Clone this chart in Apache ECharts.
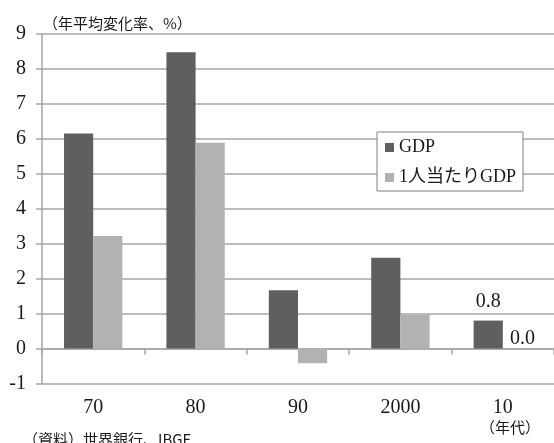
<!DOCTYPE html>
<html>
<head>
<meta charset="utf-8">
<script src="https://cdn.jsdelivr.net/npm/echarts@6/dist/echarts.min.js"></script>
<style>
  html, body { margin: 0; padding: 0; background: #ffffff; }
  #chart { width: 554px; height: 443px; }
</style>
</head>
<body>
<div id="chart"></div>
<script>
// Decades and average annual growth rates (%)
const decades = ['70', '80', '90', '2000', '10'];
const gdpGrowth = [6.15, 8.48, 1.67, 2.6, 0.8];
const perCapitaGrowth = [3.22, 5.89, -0.42, 0.97, 0.0];
const seriesNames = ['GDP', '1人当たりGDP'];
const yTicks = { min: -1, max: 9, interval: 1 };
// Only the latest decade carries a value label
const labelledIndex = 4;

const serif = "'Liberation Serif', 'Noto Sans CJK JP', serif";
const cjk = "'Noto Sans CJK JP', 'Liberation Serif', sans-serif";
const gridColor = '#a6a6a6';

function withLabel(values, labelOpts) {
  return values.map((v, i) => i === labelledIndex
    ? { value: v, label: Object.assign({ show: true, formatter: p => p.value.toFixed(1) }, labelOpts) }
    : v);
}

const chart = echarts.init(document.getElementById('chart'), null, { renderer: 'canvas' });

chart.setOption({
  animation: false,
  backgroundColor: '#ffffff',
  textStyle: { fontFamily: serif, color: '#1a1a1a' },
  title: [
    { text: '（年平均変化率、%）', left: 38, top: 11,
      textStyle: { fontFamily: cjk, fontSize: 15, fontWeight: 'normal', color: '#1a1a1a' } },
    { text: '（年代）', left: 475, top: 415,
      textStyle: { fontFamily: cjk, fontSize: 15, fontWeight: 'normal', color: '#1a1a1a' } },
    { text: '（資料）世界銀行、IBGE', left: 18, top: 427,
      textStyle: { fontFamily: cjk, fontSize: 15, fontWeight: 'normal', color: '#1a1a1a' } }
  ],
  legend: {
    data: seriesNames,
    orient: 'vertical',
    left: 377,
    top: 132,
    backgroundColor: '#ffffff',
    borderColor: '#808080',
    borderWidth: 1,
    padding: [5, 7, 3, 8],
    itemWidth: 9,
    itemHeight: 9,
    itemGap: 9,
    icon: 'rect',
    textStyle: { fontFamily: serif, fontSize: 18, color: '#1a1a1a', lineHeight: 21 }
  },
  grid: { left: 42, right: -3, top: 34, bottom: 59.5, containLabel: false },
  xAxis: [
    {
      // labels along the bottom edge
      type: 'category',
      data: decades,
      position: 'bottom',
      axisLine: { show: false, onZero: false },
      axisTick: { show: false },
      axisLabel: { fontSize: 20, fontFamily: serif, color: '#1a1a1a', margin: 14 }
    },
    {
      // zero line with boundary ticks
      type: 'category',
      data: decades,
      position: 'bottom',
      axisLine: { show: true, onZero: true, lineStyle: { color: gridColor, width: 1.5 } },
      axisTick: { show: true, length: 6, lineStyle: { color: gridColor, width: 1.5 } },
      axisLabel: { show: false }
    }
  ],
  yAxis: {
    type: 'value',
    min: yTicks.min,
    max: yTicks.max,
    interval: yTicks.interval,
    axisLine: { show: true, lineStyle: { color: gridColor, width: 1.5 } },
    axisTick: { show: true, length: 6, lineStyle: { color: gridColor, width: 1.5 } },
    axisLabel: { fontSize: 20, fontFamily: serif, color: '#1a1a1a', margin: 16 },
    splitLine: { show: true, lineStyle: { color: gridColor, width: 1.5 } }
  },
  series: [
    {
      name: seriesNames[0],
      type: 'bar',
      xAxisIndex: 0,
      barGap: '0%',
      barCategoryGap: '43%',
      itemStyle: { color: '#5f5f5f' },
      label: { show: false },
      data: withLabel(gdpGrowth, { position: 'top', distance: 9, fontSize: 20, fontFamily: serif, color: '#1a1a1a' })
    },
    {
      name: seriesNames[1],
      type: 'bar',
      xAxisIndex: 0,
      barGap: '0%',
      barCategoryGap: '43%',
      itemStyle: { color: '#b2b2b2' },
      label: { show: false },
      data: withLabel(perCapitaGrowth, { position: 'top', distance: 0, offset: [5, 0], fontSize: 20, fontFamily: serif, color: '#1a1a1a' })
    }
  ]
});
</script>
</body>
</html>
